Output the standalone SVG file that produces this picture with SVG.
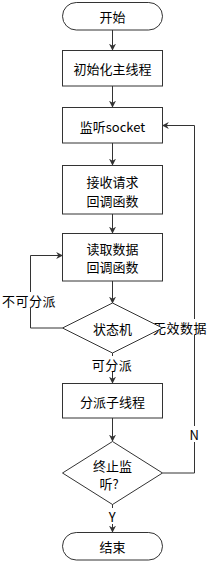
<svg xmlns="http://www.w3.org/2000/svg" width="209" height="561" viewBox="0 0 209 561">
<defs>
<marker id="arr" viewBox="0 0 10 10" refX="9" refY="5" markerWidth="7" markerHeight="7" markerUnits="userSpaceOnUse" orient="auto">
<path d="M0,0 L10,5 L0,10 L3,5 Z" fill="#333"/>
</marker>
<style>
.n{fill:#fff;stroke:#333;stroke-width:1}
.t{font-family:"Noto Sans CJK SC","Microsoft YaHei",sans-serif;font-size:13px;fill:#000;text-anchor:middle;dominant-baseline:central}
.c{fill:none;stroke:#333;stroke-width:1;marker-end:url(#arr)}
.l{font-family:"Noto Sans CJK SC",sans-serif;font-size:13px;fill:#000;text-anchor:middle;dominant-baseline:central;letter-spacing:0.5px}
.bg{fill:#fff}
</style>
</defs>
<rect width="209" height="561" fill="#fff"/>
<g id="connectors">
<path class="c" d="M112.5,30 V50"/>
<path class="c" d="M112.5,86 V107"/>
<path class="c" d="M112.5,143 V165"/>
<path class="c" d="M112.5,214 V233"/>
<path class="c" d="M112.5,281 V303"/>
<path class="c" d="M62.5,328 H30.5 V255.5 H62.5"/>
<path class="c" d="M162.5,328 H194.5"/>
<path class="c" d="M112.5,353 V383"/>
<path class="c" d="M112.5,418 V441"/>
<path class="c" d="M162.5,473 H194.5 V125.5 H162.5"/>
<path class="c" d="M112.5,504 V532"/>
<rect class="bg" x="89" y="356" width="47" height="16"/>
<text class="l" x="112" y="364">可分派</text>
<rect class="bg" x="2" y="292" width="54" height="16"/>
<text class="l" x="29" y="300">不可分派</text>
<rect class="bg" x="153" y="319" width="54" height="16"/>
<text class="l" x="180" y="327">无效数据</text>
<rect class="bg" x="188" y="426" width="13" height="16"/>
<text class="l" x="194.5" y="434">N</text>
<rect class="bg" x="106" y="508" width="13" height="16"/>
<text class="l" x="112.5" y="516">Y</text>
</g>
<g id="start"><rect class="n" x="62.5" y="2.5" width="100" height="27.5" rx="13.75"/><text class="t" x="112.5" y="16.5">开始</text></g>
<g id="init"><rect class="n" x="62.5" y="50.5" width="100" height="35.5"/><text class="t" x="112.5" y="68.5">初始化主线程</text></g>
<g id="listen"><rect class="n" x="62.5" y="107.5" width="100" height="35.5"/><text class="t" x="112.5" y="126">监听socket</text></g>
<g id="accept"><rect class="n" x="62.5" y="165.5" width="100" height="48.5"/><text class="t" x="112.5" y="181.5">接收请求</text><text class="t" x="112.5" y="200">回调函数</text></g>
<g id="read"><rect class="n" x="62.5" y="233.5" width="100" height="47.5"/><text class="t" x="112.5" y="248.5">读取数据</text><text class="t" x="112.5" y="266.5">回调函数</text></g>
<g id="fsm"><polygon class="n" points="112.5,303 162.5,328 112.5,353 62.5,328"/><text class="t" x="112.5" y="328">状态机</text></g>
<g id="dispatch"><rect class="n" x="62.5" y="383.5" width="100" height="34.5"/><text class="t" x="112.5" y="401">分派子线程</text></g>
<g id="stop"><polygon class="n" points="112.5,441.5 162.5,473 112.5,504.5 62.5,473"/><text class="t" x="112.5" y="465">终止监</text><text class="t" x="109" y="483">听?</text></g>
<g id="end"><rect class="n" x="62.5" y="532.5" width="100" height="27.5" rx="13.75"/><text class="t" x="112.5" y="546.5">结束</text></g>
</svg>
